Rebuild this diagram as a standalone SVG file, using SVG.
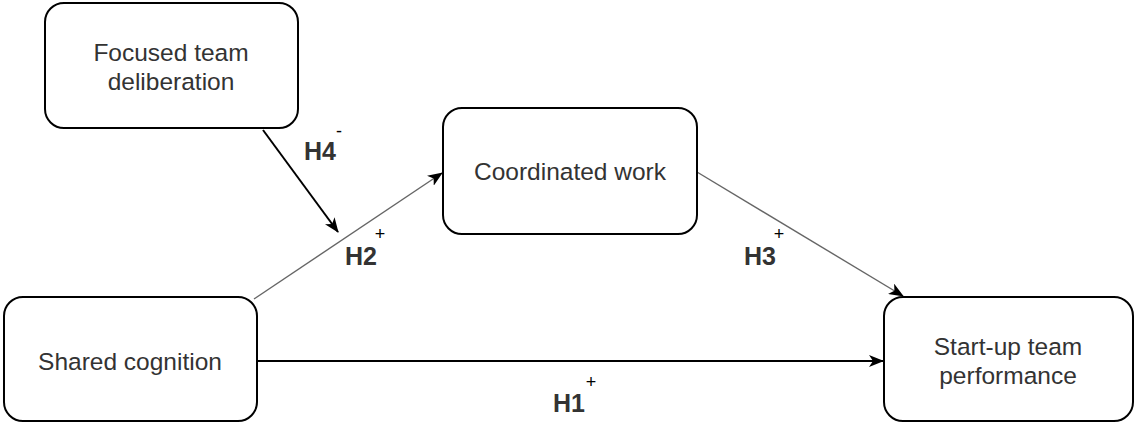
<svg xmlns="http://www.w3.org/2000/svg" width="1136" height="423" viewBox="0 0 1136 423">
<style>
.box{fill:#fff;stroke:#000;stroke-width:2}
.t{font-family:"Liberation Sans",Arial,sans-serif;font-size:24.5px;fill:#333;text-anchor:middle}
.h{font-family:"Liberation Sans",Arial,sans-serif;font-size:25px;font-weight:bold;fill:#333}
.s{font-family:"Liberation Sans",Arial,sans-serif;font-size:18px;fill:#000;text-anchor:middle}
.thick{stroke:#000;stroke-width:2;fill:none}
.thin{stroke:#666;stroke-width:1.4;fill:none}
</style>
<defs>
<marker id="arr" markerUnits="userSpaceOnUse" markerWidth="15" markerHeight="12" viewBox="0 0 15 12" refX="14" refY="6" orient="auto">
<path d="M0,0 L15,6 L0,12 L4,6 z" fill="#000"/>
</marker>
</defs>
<rect width="1136" height="423" fill="#fff"/>
<g id="connectors">
<line class="thick" x1="257" y1="361" x2="883" y2="361" marker-end="url(#arr)"/>
<line class="thin" x1="254" y1="299" x2="442" y2="173" marker-end="url(#arr)"/>
<line class="thin" x1="697" y1="172" x2="903" y2="296" marker-end="url(#arr)"/>
<line class="thick" x1="263" y1="130" x2="338" y2="232" marker-end="url(#arr)"/>
</g>
<g id="labels">
<text class="h" x="304" y="160">H4</text><text class="s" x="339" y="137">-</text>
<text class="h" x="345" y="265">H2</text><text class="s" x="380" y="240">+</text>
<text class="h" x="744" y="265">H3</text><text class="s" x="779" y="240">+</text>
<text class="h" x="553" y="412">H1</text><text class="s" x="591" y="388">+</text>
</g>
<g id="focused">
<rect class="box" x="45" y="3" width="253" height="125" rx="19"/>
<text class="t" x="171" y="61">Focused team</text>
<text class="t" x="171" y="90">deliberation</text>
</g>
<g id="coordinated">
<rect class="box" x="443" y="108" width="254" height="126" rx="19"/>
<text class="t" x="570" y="180">Coordinated work</text>
</g>
<g id="shared">
<rect class="box" x="4" y="297" width="253" height="124" rx="19"/>
<text class="t" x="130" y="370">Shared cognition</text>
</g>
<g id="startup">
<rect class="box" x="884" y="297" width="249" height="124" rx="19"/>
<text class="t" x="1008" y="355">Start-up team</text>
<text class="t" x="1008" y="384">performance</text>
</g>
</svg>
